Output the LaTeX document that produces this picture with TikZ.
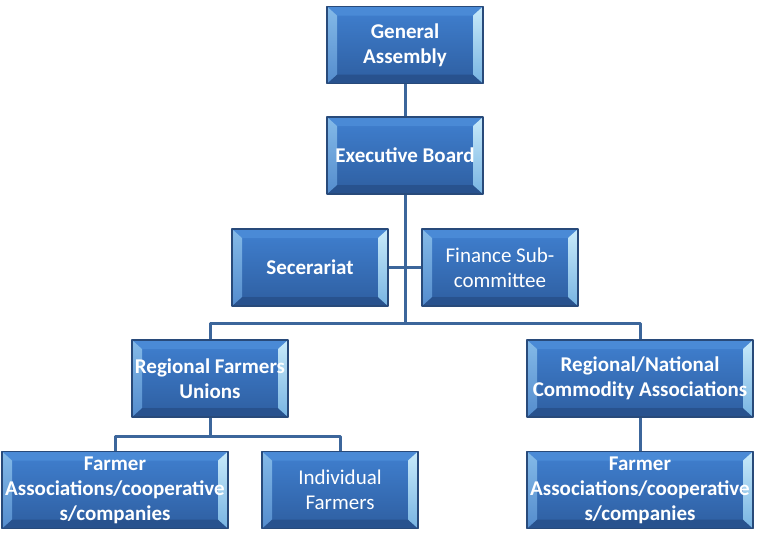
\documentclass[tikz,border=0pt]{standalone}
\usepackage{fontspec}
\setmainfont{Carlito}
\usetikzlibrary{calc}

\definecolor{boxedge}{RGB}{40,74,122}
\definecolor{facetop}{RGB}{64,128,208}
\definecolor{facebot}{RGB}{46,94,160}
\definecolor{bevlt}{RGB}{132,186,232}
\definecolor{bevlb}{RGB}{84,140,205}
\definecolor{bevrt}{RGB}{200,234,250}
\definecolor{bevrb}{RGB}{120,180,226}
\definecolor{bevtop}{RGB}{74,138,214}
\definecolor{bevbot}{RGB}{40,82,142}
\definecolor{wire}{RGB}{60,102,155}

\begin{document}
\begin{tikzpicture}[x=1pt,y=-1pt,join=round,
   unit/.style={draw=boxedge,line width=1.2pt,top color=facetop,bottom color=facebot,
     minimum width=156pt,minimum height=77pt,inner sep=0pt,align=center,text=white,
     font=\fontsize{21}{25}\selectfont\bfseries,
     path picture={
       \coordinate (pa) at (path picture bounding box.south west);
       \coordinate (pb) at (path picture bounding box.north east);
       \coordinate (pc) at (pa |- pb);
       \coordinate (pd) at (pb |- pa);
       \fill[bevtop](pc)--(pb)--([shift={(-10pt,-9pt)}]pb)--([shift={(10pt,-9pt)}]pc)--cycle;
       \fill[bevbot](pa)--(pd)--([shift={(-10pt,9pt)}]pd)--([shift={(10pt,9pt)}]pa)--cycle;
       \shade[top color=bevlt,bottom color=bevlb](pa)--(pc)--([shift={(10pt,-9pt)}]pc)--([shift={(10pt,9pt)}]pa)--cycle;
       \shade[top color=bevrt,bottom color=bevrb](pd)--(pb)--([shift={(-10pt,-9pt)}]pb)--([shift={(-10pt,9pt)}]pd)--cycle;
     }},
   wide/.style={unit,minimum width=226pt},
   plain/.style={font=\fontsize{21}{25}\selectfont},
   wire/.style={draw=wire,line width=3pt}]
   \useasboundingbox (0,0) rectangle (761,555);
   % top of the chart
   \node[unit] (ga) at (405,45) {General\\Assembly};
   \node[unit] (eb) at (405,155.5) {Executive Board};
   \node[unit] (sec) at (310,267.5) {Secerariat};
   \node[unit,plain] (fin) at (500,267.5) {Finance Sub-\\committee};
   % regional level
   \node[unit] (rfu) at (210,378.5) {Regional Farmers\\Unions};
   \node[wide] (rnca) at (640,378.5) {Regional/National\\Commodity Associations};
   % grass roots
   \node[wide] (fal) at (115,490) {Farmer\\Associations/cooperative\\s/companies};
   \node[unit,plain] (ifa) at (340,490) {Individual\\Farmers};
   \node[wide] (far) at (640,490) {Farmer\\Associations/cooperative\\s/companies};
   \coordinate (hub) at (405,323);
   \coordinate (fork) at (210,436);
   % connectors
   \draw[wire] (ga.south) -- (eb.north);
   \draw[wire] (eb.south) -- (hub);
   \draw[wire] (sec.east) -- (fin.west);
   \draw[wire] (rfu.north) |- (hub);
   \draw[wire] (rnca.north) |- (hub);
   \draw[wire] (rfu.south) -- (fork);
   \draw[wire] (fal.north) |- (fork);
   \draw[wire] (ifa.north) |- (fork);
   \draw[wire] (rnca.south) -- (far.north);
\end{tikzpicture}
\end{document}
